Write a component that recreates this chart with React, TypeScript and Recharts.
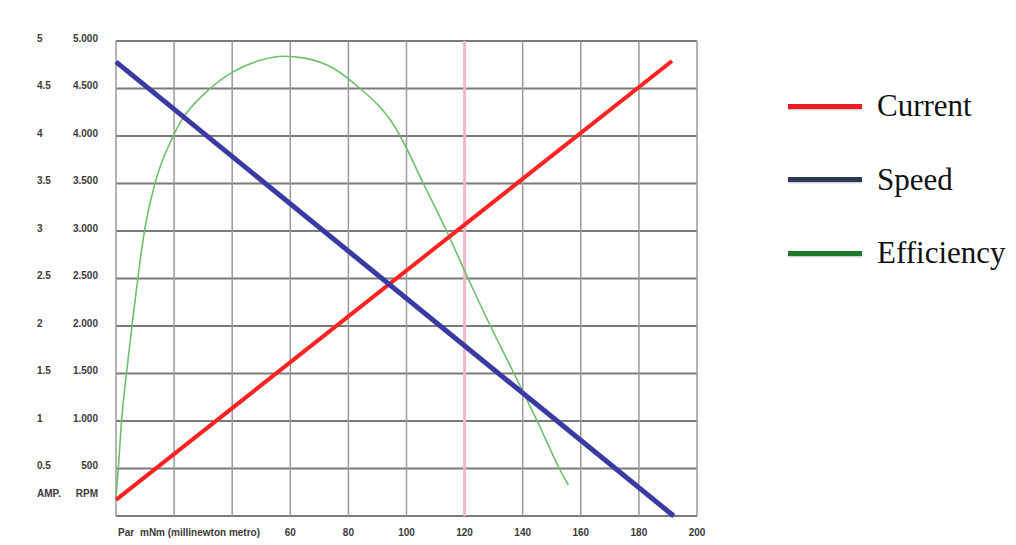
import React from "react";
import {
  LineChart,
  Line,
  XAxis,
  YAxis,
  CartesianGrid,
  ReferenceLine,
} from "recharts";

// ---- data ----
const X_TICKS = [0, 20, 40, 60, 80, 100, 120, 140, 160, 180, 200];
const X_TICK_LABELS = ["Par", "", "", "60", "80", "100", "120", "140", "160", "180", "200"];
const X_UNIT = "mNm (millinewton metro)";

const AMP_TICKS = [0, 0.5, 1, 1.5, 2, 2.5, 3, 3.5, 4, 4.5, 5];
const AMP_LABELS = ["AMP.", "0.5", "1", "1.5", "2", "2.5", "3", "3.5", "4", "4.5", "5"];
const RPM_LABELS = ["RPM", "500", "1.000", "1.500", "2.000", "2.500", "3.000", "3.500", "4.000", "4.500", "5.000"];

// current (A) vs torque (mNm)
const currentTorque = [0, 191.4];
const currentAmps = [0.17, 4.79];

// speed (RPM) vs torque
const speedTorque = [0, 192];
const speedRpm = [4780, 0];

// efficiency (%) vs torque
const effTorque = [0, 0.8, 1.9, 3.6, 5.5, 7.5, 9.8, 13.4, 19.7, 32.4, 40, 50, 57.5, 65, 75, 84, 91, 94.5, 97.8, 105.8, 113.8, 121.2, 128.9, 137, 145, 152.6, 155.7];
const effPct = [4, 10, 20, 30, 40, 50, 60, 70, 80, 90, 93.4, 96, 96.8, 96.4, 94.2, 90, 86, 83.3, 80, 70, 60, 50, 40, 30, 20, 10, 6.5];

const LEGEND_NAMES = ["Current", "Speed", "Efficiency"];
const LEGEND_COLORS = ["#f01c24", "#2c3a58", "#1c7a2c"];

const currentData = currentTorque.map((t, i) => ({ t, v: currentAmps[i] }));
const speedData = speedTorque.map((t, i) => ({ t, v: speedRpm[i] }));
const effData = effTorque.map((t, i) => ({ t, v: effPct[i] }));

const FONT = "'Liberation Sans Narrow', 'Liberation Sans', Arial, sans-serif";

const YTick = (props: any) => {
  const { y, payload } = props;
  const idx = AMP_TICKS.indexOf(payload.value);
  const dy = payload.value === 0 ? -23 : -3;
  return (
    <g fontFamily={FONT} fontSize={10} fontWeight="bold" fill="#3a3a3a">
      <text x={37} y={y + dy} dy="0.35em" textAnchor="start">
        {AMP_LABELS[idx]}
      </text>
      <text x={98} y={y + dy} dy="0.35em" textAnchor="end">
        {RPM_LABELS[idx]}
      </text>
    </g>
  );
};

const XTick = (props: any) => {
  const { x, payload } = props;
  const idx = X_TICKS.indexOf(payload.value);
  const label = X_TICK_LABELS[idx];
  if (payload.value === 0) {
    return (
      <g fontFamily={FONT} fontSize={10} fontWeight="bold" fill="#3a3a3a">
        <text x={x + 2} y={532} dy="0.35em" textAnchor="start">{label}</text>
        <text x={x + 24} y={532} dy="0.35em" textAnchor="start">{X_UNIT}</text>
      </g>
    );
  }
  if (!label) return <g />;
  return (
    <text x={x} y={532} dy="0.35em" textAnchor="middle" fontFamily={FONT} fontSize={10} fontWeight="bold" fill="#3a3a3a">
      {label}
    </text>
  );
};

const LegendBox = () => (
  <div style={{ position: "absolute", left: 788, top: 81, width: 228, height: 200 }}>
    {LEGEND_NAMES.map((n, i) => (
      <div key={n} style={{ position: "absolute", left: 0, top: i * 73.5, height: 50, display: "flex", alignItems: "center", whiteSpace: "nowrap" }}>
        <div style={{ width: 74, height: 5, background: LEGEND_COLORS[i], boxShadow: "0 1px 2px rgba(0,0,0,0.25)" }} />
        <span style={{ marginLeft: 15, fontFamily: "'Liberation Serif', 'Times New Roman', serif", fontSize: 31, color: "#111", lineHeight: "30px" }}>
          {n}
        </span>
      </div>
    ))}
  </div>
);

export default function App() {
  return (
    <div style={{ position: "absolute", left: 0, top: 0, width: 1016, height: 545, background: "#fff" }}>
      <LineChart width={1016} height={545} margin={{ top: 41, right: 319, bottom: 0, left: 16 }}>
        <CartesianGrid yAxisId="amp" horizontal={true} vertical={false} stroke="#7a7a7a" strokeWidth={2} />
        <CartesianGrid yAxisId="amp" horizontal={false} vertical={true} stroke="#9a9a9a" strokeWidth={1.5} />
        <XAxis
          dataKey="t"
          type="number"
          domain={[0, 200]}
          ticks={X_TICKS}
          tick={<XTick />}
          tickLine={false}
          axisLine={false}
          height={29}
          allowDuplicatedCategory={false}
        />
        <YAxis
          yAxisId="amp"
          type="number"
          domain={[0, 5]}
          ticks={AMP_TICKS}
          tick={<YTick />}
          tickLine={false}
          axisLine={false}
          width={100}
        />
        <YAxis yAxisId="rpm" type="number" domain={[0, 5000]} hide />
        <YAxis yAxisId="eff" type="number" domain={[0, 100]} hide />
        <ReferenceLine yAxisId="amp" x={120} stroke="#f2b6c6" strokeWidth={3} />
        <Line
          yAxisId="eff"
          data={effData}
          dataKey="v"
          type="monotone"
          stroke="#6cc06c"
          strokeWidth={1.6}
          dot={false}
          isAnimationActive={false}
          name="Efficiency"
        />
        <Line
          yAxisId="amp"
          data={currentData}
          dataKey="v"
          type="linear"
          stroke="#ff2222"
          strokeWidth={4}
          dot={false}
          isAnimationActive={false}
          name="Current"
        />
        <Line
          yAxisId="rpm"
          data={speedData}
          dataKey="v"
          type="linear"
          stroke="#3a3aa2"
          strokeWidth={5}
          dot={false}
          isAnimationActive={false}
          name="Speed"
        />
      </LineChart>
      <LegendBox />
    </div>
  );
}
